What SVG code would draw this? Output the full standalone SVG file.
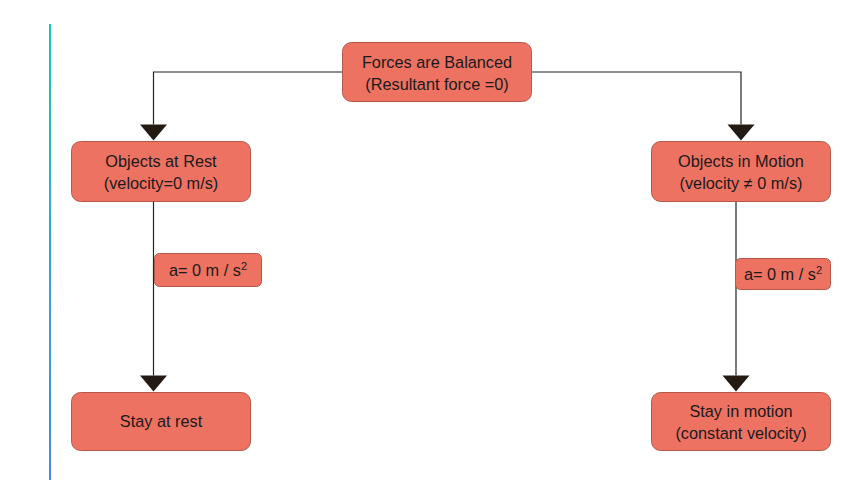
<svg xmlns="http://www.w3.org/2000/svg" width="853" height="480" viewBox="0 0 853 480">
<defs>
<linearGradient id="vg" x1="0" y1="0" x2="0" y2="1">
<stop offset="0" stop-color="#1cc4b4"/>
<stop offset="1" stop-color="#4a88e8"/>
</linearGradient>
</defs>
<style>
.box{fill:#ee7262;stroke:#b5584a;stroke-width:1}
.t{font-family:"Liberation Sans",Arial,sans-serif;font-size:16.3px;fill:#1a1a1a;text-anchor:middle}
.c{fill:none;stroke:#222;stroke-width:1.2}
.ah{fill:#231a14}
</style>
<rect x="49" y="24" width="2" height="456" fill="url(#vg)"/>
<g id="connectors">
<polyline class="c" points="342,72 153.5,72 153.5,124.5"/>
<path class="ah" d="M140,124.5 L167,124.5 L153.5,140.5 Z"/>
<polyline class="c" points="531,72 741,72 741,124.5"/>
<path class="ah" d="M727.5,124.5 L754.5,124.5 L741,140.5 Z"/>
<line class="c" x1="153.5" y1="202" x2="153.5" y2="375.5"/>
<path class="ah" d="M140,375.5 L167,375.5 L153.5,391.5 Z"/>
<line class="c" x1="736" y1="202" x2="736" y2="375.5"/>
<path class="ah" d="M722.5,375.5 L749.5,375.5 L736,391.5 Z"/>
</g>
<g id="balanced">
<rect class="box" x="342.5" y="42.5" width="189" height="59" rx="9"/>
<text class="t" x="437" y="68">Forces are Balanced</text>
<text class="t" x="437" y="90">(Resultant force =0)</text>
</g>
<g id="rest">
<rect class="box" x="71.5" y="141.5" width="179" height="60" rx="9"/>
<text class="t" x="161" y="167">Objects at Rest</text>
<text class="t" x="161" y="189">(velocity=0 m/s)</text>
</g>
<g id="motion">
<rect class="box" x="651.5" y="141.5" width="179" height="60" rx="9"/>
<text class="t" x="741" y="167">Objects in Motion</text>
<text class="t" x="741" y="189">(velocity ≠ 0 m/s)</text>
</g>
<g id="accLeft">
<rect class="box" x="154.5" y="253.5" width="107" height="33" rx="5"/>
<text class="t" x="208" y="276">a= 0 m / s<tspan font-size="11" dy="-6">2</tspan></text>
</g>
<g id="accRight">
<rect class="box" x="735.5" y="258.5" width="95" height="31" rx="5"/>
<text class="t" x="783" y="280">a= 0 m / s<tspan font-size="11" dy="-6">2</tspan></text>
</g>
<g id="stayRest">
<rect class="box" x="71.5" y="392.5" width="179" height="58" rx="9"/>
<text class="t" x="161" y="427">Stay at rest</text>
</g>
<g id="stayMotion">
<rect class="box" x="651.5" y="392.5" width="179" height="58" rx="9"/>
<text class="t" x="741" y="417">Stay in motion</text>
<text class="t" x="741" y="439">(constant velocity)</text>
</g>
</svg>
